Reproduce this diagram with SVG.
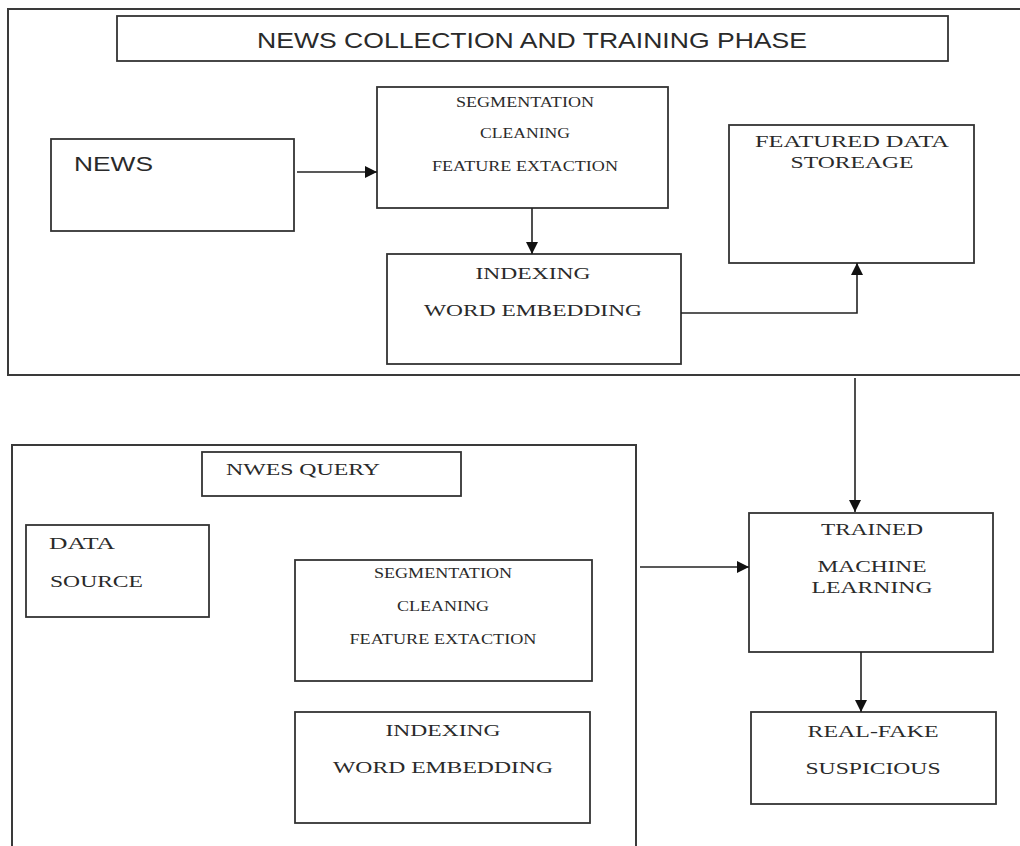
<svg xmlns="http://www.w3.org/2000/svg" width="1020" height="846" viewBox="0 0 1020 846">
<defs>
<style>
.frame{fill:none;stroke:#3a3a3a;stroke-width:2}
.box{fill:#fff;stroke:#333;stroke-width:1.8}
.conn{fill:none;stroke:#222;stroke-width:1.6}
.serif{font-family:"Liberation Serif","Times New Roman",serif;fill:#2a2a2a}
.sans{font-family:"Liberation Sans",Arial,sans-serif;fill:#2a2a2a}
</style>
<marker id="arr" viewBox="0 0 10 10" refX="10" refY="5" markerWidth="12" markerHeight="12" markerUnits="userSpaceOnUse" orient="auto">
<path d="M0,0 L10,5 L0,10 z" fill="#111"/>
</marker>
</defs>
<rect width="1020" height="846" fill="#fff"/>

<g id="frame-top">
<rect class="frame" x="8" y="9" width="1020" height="366"/>
</g>
<g id="frame-bottom">
<rect class="frame" x="12" y="445" width="624" height="420"/>
</g>

<g id="title">
<rect class="box" x="117" y="16" width="831" height="45"/>
<text class="sans" x="532" y="48" font-size="22" text-anchor="middle" textLength="550" lengthAdjust="spacingAndGlyphs">NEWS COLLECTION AND TRAINING PHASE</text>
</g>

<g id="news">
<rect class="box" x="51" y="139" width="243" height="92"/>
<text class="sans" x="74" y="171" font-size="21" textLength="79" lengthAdjust="spacingAndGlyphs">NEWS</text>
</g>

<g id="seg-top">
<rect class="box" x="377" y="87" width="291" height="121"/>
<text class="serif" x="525" y="107" font-size="14" text-anchor="middle" textLength="138" lengthAdjust="spacingAndGlyphs">SEGMENTATION</text>
<text class="serif" x="525" y="138" font-size="14" text-anchor="middle" textLength="90" lengthAdjust="spacingAndGlyphs">CLEANING</text>
<text class="serif" x="525" y="171" font-size="14" text-anchor="middle" textLength="186" lengthAdjust="spacingAndGlyphs">FEATURE EXTACTION</text>
</g>

<g id="index-top">
<rect class="box" x="387" y="254" width="294" height="110"/>
<text class="serif" x="533" y="279" font-size="17" text-anchor="middle" textLength="115" lengthAdjust="spacingAndGlyphs">INDEXING</text>
<text class="serif" x="533" y="316" font-size="17" text-anchor="middle" textLength="218" lengthAdjust="spacingAndGlyphs">WORD EMBEDDING</text>
</g>

<g id="storage">
<rect class="box" x="729" y="125" width="245" height="138"/>
<text class="serif" x="852" y="147" font-size="17" text-anchor="middle" textLength="194" lengthAdjust="spacingAndGlyphs">FEATURED DATA</text>
<text class="serif" x="852" y="168" font-size="17" text-anchor="middle" textLength="123" lengthAdjust="spacingAndGlyphs">STOREAGE</text>
</g>

<g id="query">
<rect class="box" x="202" y="452" width="259" height="44"/>
<text class="serif" x="226" y="475" font-size="17" textLength="154" lengthAdjust="spacingAndGlyphs">NWES QUERY</text>
</g>

<g id="data-source">
<rect class="box" x="26" y="525" width="183" height="92"/>
<text class="serif" x="49" y="549" font-size="17" textLength="66" lengthAdjust="spacingAndGlyphs">DATA</text>
<text class="serif" x="50" y="587" font-size="17" textLength="93" lengthAdjust="spacingAndGlyphs">SOURCE</text>
</g>

<g id="seg-bottom">
<rect class="box" x="295" y="560" width="297" height="121"/>
<text class="serif" x="443" y="578" font-size="14" text-anchor="middle" textLength="138" lengthAdjust="spacingAndGlyphs">SEGMENTATION</text>
<text class="serif" x="443" y="611" font-size="14" text-anchor="middle" textLength="92" lengthAdjust="spacingAndGlyphs">CLEANING</text>
<text class="serif" x="443" y="644" font-size="14" text-anchor="middle" textLength="187" lengthAdjust="spacingAndGlyphs">FEATURE EXTACTION</text>
</g>

<g id="index-bottom">
<rect class="box" x="295" y="712" width="295" height="111"/>
<text class="serif" x="443" y="736" font-size="17" text-anchor="middle" textLength="115" lengthAdjust="spacingAndGlyphs">INDEXING</text>
<text class="serif" x="443" y="773" font-size="17" text-anchor="middle" textLength="220" lengthAdjust="spacingAndGlyphs">WORD EMBEDDING</text>
</g>

<g id="trained">
<rect class="box" x="749" y="513" width="244" height="139"/>
<text class="serif" x="872" y="535" font-size="17" text-anchor="middle" textLength="102" lengthAdjust="spacingAndGlyphs">TRAINED</text>
<text class="serif" x="872" y="572" font-size="17" text-anchor="middle" textLength="109" lengthAdjust="spacingAndGlyphs">MACHINE</text>
<text class="serif" x="872" y="593" font-size="17" text-anchor="middle" textLength="121" lengthAdjust="spacingAndGlyphs">LEARNING</text>
</g>

<g id="result">
<rect class="box" x="751" y="712" width="245" height="92"/>
<text class="serif" x="873" y="737" font-size="17" text-anchor="middle" textLength="131" lengthAdjust="spacingAndGlyphs">REAL-FAKE</text>
<text class="serif" x="873" y="774" font-size="17" text-anchor="middle" textLength="135" lengthAdjust="spacingAndGlyphs">SUSPICIOUS</text>
</g>

<g id="connectors">
<path class="conn" d="M297,172 L377,172" marker-end="url(#arr)"/>
<path class="conn" d="M532,208 L532,254" marker-end="url(#arr)"/>
<path class="conn" d="M681,313 L857,313 L857,263" marker-end="url(#arr)"/>
<path class="conn" d="M855,378 L855,512" marker-end="url(#arr)"/>
<path class="conn" d="M640,567 L749,567" marker-end="url(#arr)"/>
<path class="conn" d="M861,652 L861,712" marker-end="url(#arr)"/>
</g>
</svg>
